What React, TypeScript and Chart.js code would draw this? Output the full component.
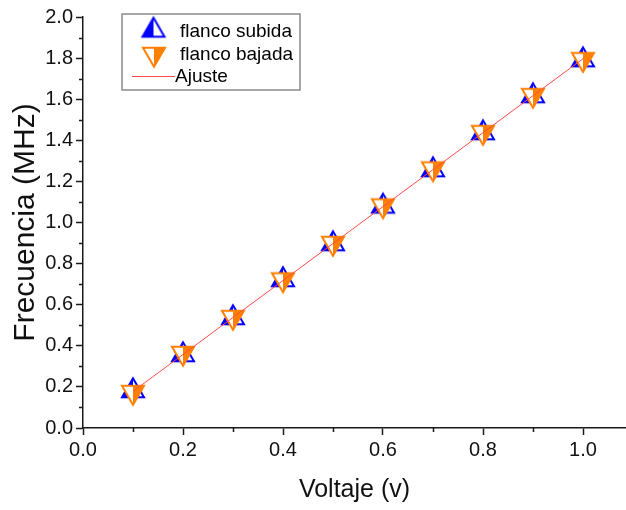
import React, { useEffect, useRef } from 'react';
import { Chart, registerables } from 'chart.js';

Chart.register(...registerables);

// ---- data ----
const voltage = [0.1, 0.2, 0.3, 0.4, 0.5, 0.6, 0.7, 0.8, 0.9, 1.0];
const flancoSubida = [0.18, 0.355, 0.535, 0.72, 0.895, 1.078, 1.255, 1.435, 1.615, 1.79];
const flancoBajada = [0.175, 0.365, 0.54, 0.723, 0.9, 1.083, 1.263, 1.44, 1.62, 1.795];
const fitX = [0.1, 1.0];
const fitY = [0.178, 1.797];
const xTickValues = [0, 0.1, 0.2, 0.3, 0.4, 0.5, 0.6, 0.7, 0.8, 0.9, 1.0];
const yTickValues = [0, 0.1, 0.2, 0.3, 0.4, 0.5, 0.6, 0.7, 0.8, 0.9, 1.0, 1.1, 1.2, 1.3, 1.4, 1.5, 1.6, 1.7, 1.8, 1.9, 2.0];
const seriesLabels = ['flanco subida', 'flanco bajada', 'Ajuste'];
const xTitle = 'Voltaje (v)';
const yTitle = 'Frecuencia (MHz)';

const FONT = "'Liberation Sans', Arial, sans-serif";
const BLUE = '#0000ff';
const ORANGE = '#ff8000';
const RED = '#ff4a4a';
const AXIS = '#1a1a1a';

function isMajor(v: number) {
  return Math.round(v * 10) % 2 === 0;
}

function makeTriangle(up: boolean, color: string, fillLeft: boolean): HTMLCanvasElement {
  const w = 22, h = 19, S = 34;
  const c = document.createElement('canvas');
  c.width = S; c.height = S;
  const ctx = c.getContext('2d')!;
  const cx = S / 2, cy = S / 2;
  const apexY = up ? cy - (2 * h) / 3 : cy + (2 * h) / 3;
  const baseY = up ? cy + h / 3 : cy - h / 3;
  const tri = () => {
    ctx.beginPath();
    ctx.moveTo(cx, apexY);
    ctx.lineTo(cx - w / 2, baseY);
    ctx.lineTo(cx + w / 2, baseY);
    ctx.closePath();
  };
  tri();
  ctx.fillStyle = '#ffffff';
  ctx.fill();
  ctx.beginPath();
  ctx.moveTo(cx, apexY);
  ctx.lineTo(fillLeft ? cx - w / 2 : cx + w / 2, baseY);
  ctx.lineTo(cx, baseY);
  ctx.closePath();
  ctx.fillStyle = color;
  ctx.fill();
  tri();
  ctx.lineWidth = 2;
  ctx.lineJoin = 'miter';
  ctx.strokeStyle = color;
  ctx.stroke();
  return c;
}

export default function App() {
  const ref = useRef<HTMLCanvasElement | null>(null);

  useEffect(() => {
    if (!ref.current) return;
    const upMarker = makeTriangle(true, BLUE, true);
    const downMarker = makeTriangle(false, ORANGE, false);

    const minorTicks = {
      id: 'minorTicks',
      afterDatasetsDraw(chart: any) {
        const ctx = chart.ctx;
        const xs = chart.scales.x;
        const ys = chart.scales.y;
        const area = chart.chartArea;
        ctx.save();
        ctx.strokeStyle = AXIS;
        ctx.lineWidth = 1.5;
        ctx.beginPath();
        xTickValues.forEach((v) => {
          if (isMajor(v)) return;
          const px = Math.round(xs.getPixelForValue(v)) + 0.5;
          ctx.moveTo(px, area.bottom);
          ctx.lineTo(px, area.bottom + 4);
        });
        yTickValues.forEach((v) => {
          if (isMajor(v)) return;
          const py = Math.round(ys.getPixelForValue(v)) + 0.5;
          ctx.moveTo(area.left, py);
          ctx.lineTo(area.left - 4, py);
        });
        ctx.stroke();
        ctx.restore();
      },
    };

    const boxLegend = {
      id: 'boxLegend',
      afterDraw(chart: any) {
        const ctx = chart.ctx;
        ctx.save();
        ctx.strokeStyle = '#8a8a8a';
        ctx.lineWidth = 1.5;
        ctx.strokeRect(122, 14, 178, 76);
        ctx.drawImage(upMarker, 153.5 - upMarker.width / 2, 30.5 - upMarker.height / 2);
        ctx.drawImage(downMarker, 154 - downMarker.width / 2, 54 - downMarker.height / 2);
        ctx.strokeStyle = RED;
        ctx.lineWidth = 1;
        ctx.beginPath();
        ctx.moveTo(132, 76.5);
        ctx.lineTo(175, 76.5);
        ctx.stroke();
        ctx.fillStyle = '#000';
        ctx.font = `19px ${FONT}`;
        ctx.textBaseline = 'alphabetic';
        ctx.textAlign = 'left';
        ctx.fillText(seriesLabels[0], 180, 37);
        ctx.fillText(seriesLabels[1], 180, 60);
        ctx.fillText(seriesLabels[2], 175, 82);
        ctx.restore();
      },
    };

    const chart = new Chart(ref.current, {
      type: 'scatter',
      data: {
        datasets: [
          {
            label: seriesLabels[0],
            data: voltage.map((x, i) => ({ x, y: flancoSubida[i] })),
            pointStyle: upMarker as any,
            pointRadius: 10,
            order: 3,
          },
          {
            label: seriesLabels[1],
            data: voltage.map((x, i) => ({ x, y: flancoBajada[i] })),
            pointStyle: downMarker as any,
            pointRadius: 10,
            order: 2,
          },
          {
            label: seriesLabels[2],
            data: fitX.map((x, i) => ({ x, y: fitY[i] })),
            showLine: true,
            borderColor: RED,
            borderWidth: 1,
            pointRadius: 0,
            order: 1,
          },
        ],
      },
      options: {
        responsive: false,
        animation: false,
        events: [],
        layout: { autoPadding: false, padding: { left: 0, top: 17, right: 0, bottom: 0 } },
        plugins: {
          legend: { display: false },
          tooltip: { enabled: false },
        },
        scales: {
          x: {
            type: 'linear',
            min: 0,
            max: 1.086,
            afterBuildTicks: (scale: any) => {
              scale.ticks = xTickValues.map((v) => ({ value: v }));
            },
            afterFit: (scale: any) => {
              scale.height = 82;
              scale.paddingRight = 0;
              scale.paddingLeft = 0;
            },
            ticks: {
              autoSkip: false,
              maxRotation: 0,
              padding: 3,
              color: '#111',
              font: { family: FONT, size: 20 },
              callback: (v: any) => (isMajor(Number(v)) ? Number(v).toFixed(1) : ''),
            },
            grid: {
              display: true,
              drawOnChartArea: false,
              drawTicks: true,
              tickLength: 7,
              tickWidth: 1.5,
              tickColor: (c: any) => (c.tick && isMajor(c.tick.value) ? AXIS : 'rgba(0,0,0,0)'),
            },
            border: { display: true, color: AXIS, width: 1.5 },
            title: {
              display: true,
              text: xTitle,
              color: '#111',
              font: { family: FONT, size: 25 },
              padding: { top: 0, bottom: 5 },
            },
          },
          y: {
            type: 'linear',
            min: 0,
            max: 2.0,
            afterBuildTicks: (scale: any) => {
              scale.ticks = yTickValues.map((v) => ({ value: v }));
            },
            afterFit: (scale: any) => {
              scale.width = 83;
              scale.paddingTop = 0;
              scale.paddingBottom = 0;
            },
            ticks: {
              autoSkip: false,
              padding: 3,
              color: '#111',
              font: { family: FONT, size: 20 },
              callback: (v: any) => (isMajor(Number(v)) ? Number(v).toFixed(1) : ''),
            },
            grid: {
              display: true,
              drawOnChartArea: false,
              drawTicks: true,
              tickLength: 7,
              tickWidth: 1.5,
              tickColor: (c: any) => (c.tick && isMajor(c.tick.value) ? AXIS : 'rgba(0,0,0,0)'),
            },
            border: { display: true, color: AXIS, width: 1.5 },
            title: {
              display: true,
              text: yTitle,
              color: '#111',
              font: { family: FONT, size: 30 },
              padding: { top: 8, bottom: 0 },
            },
          },
        },
      },
      plugins: [minorTicks, boxLegend],
    } as any);

    return () => chart.destroy();
  }, []);

  return (
    <div style={{ position: 'fixed', left: 0, top: 0, width: 626, height: 510, background: '#fff' }}>
      <canvas ref={ref} width={626} height={510} />
    </div>
  );
}
